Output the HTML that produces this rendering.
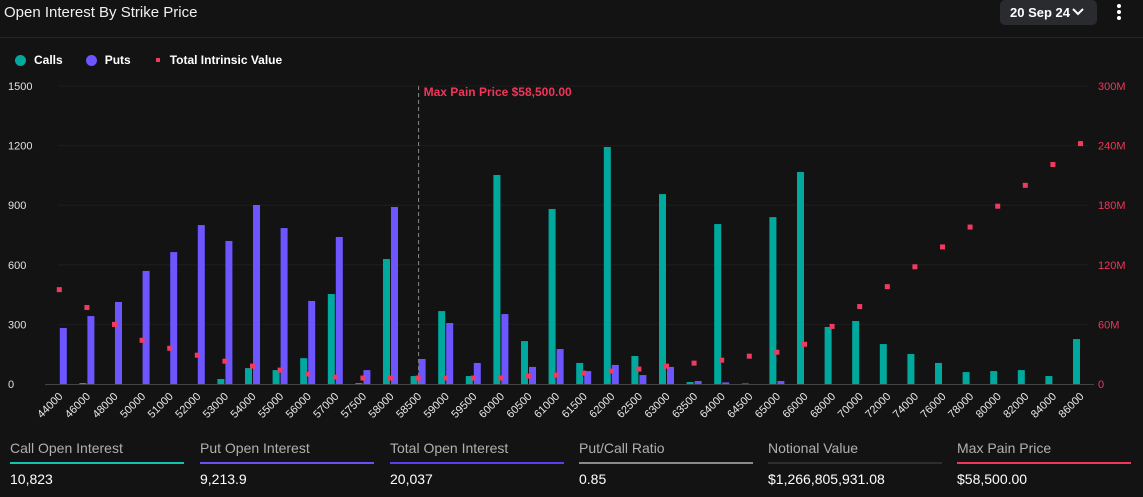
<!DOCTYPE html>
<html><head><meta charset="utf-8">
<style>
body{margin:0;background:#131313;width:1143px;height:497px;overflow:hidden;font-family:"Liberation Sans",sans-serif;color:#fff;position:relative}
.title{position:absolute;left:4px;top:4px;font-size:15px;color:#f0f0f0}
.hdr-line{position:absolute;left:0;top:37px;width:1143px;height:1px;background:#262626}
.date{position:absolute;left:1000px;top:0;width:97px;height:25px;background:#2a2b2e;border-radius:5px;font-size:13px;font-weight:bold;line-height:25px;box-sizing:border-box;padding-left:10px}
.date svg{position:absolute;left:72px;top:8px}
.menu{position:absolute;left:1117px;top:4px;width:6px}
.menu i{display:block;width:4px;height:4px;border-radius:2px;background:#fff;margin:0 0 2px 0}
.legend{position:absolute;top:53px;left:15px;font-size:12px;font-weight:bold;display:flex;align-items:center}
.legend span{display:flex;align-items:center;margin-right:23px}
.stat{position:absolute;top:440px;width:174px}
.stat .lab{font-size:14px;color:#b0b0b0;height:20px}
.stat .bar{height:2px;margin-top:2px}
.stat .val{font-size:14px;color:#fff;margin-top:7px}
</style></head><body>
<div class="title">Open Interest By Strike Price</div>
<div class="date">20 Sep 24<svg width="12" height="8" viewBox="0 0 12 8"><path d="M1 1L6 6L11 1" stroke="#fff" stroke-width="2" fill="none"/></svg></div>
<div class="menu"><i></i><i></i><i></i></div>
<div class="hdr-line"></div>
<div class="legend">
<span><i style="width:11px;height:11px;border-radius:6px;background:#00a99d;margin-right:8px;display:inline-block"></i>Calls</span>
<span><i style="width:11px;height:11px;border-radius:6px;background:#6d55ff;margin-right:8px;display:inline-block"></i>Puts</span>
<span><i style="width:4px;height:4px;background:#f03a5f;margin:0 10px 0 2px;display:inline-block"></i>Total Intrinsic Value</span>
</div>
<svg id="chart" width="1143" height="430" style="position:absolute;left:0;top:0"></svg>

<div class="stat" style="left:10px"><div class="lab">Call Open Interest</div><div class="bar" style="background:#12c3b2"></div><div class="val">10,823</div></div>
<div class="stat" style="left:200px"><div class="lab">Put Open Interest</div><div class="bar" style="background:#6d4ff5"></div><div class="val">9,213.9</div></div>
<div class="stat" style="left:390px"><div class="lab">Total Open Interest</div><div class="bar" style="background:#5b3ff0"></div><div class="val">20,037</div></div>
<div class="stat" style="left:579px"><div class="lab">Put/Call Ratio</div><div class="bar" style="background:#8a8a8a"></div><div class="val">0.85</div></div>
<div class="stat" style="left:768px"><div class="lab">Notional Value</div><div class="bar" style="background:#2e2e2e"></div><div class="val">$1,266,805,931.08</div></div>
<div class="stat" style="left:957px"><div class="lab">Max Pain Price</div><div class="bar" style="background:#f0365a"></div><div class="val">$58,500.00</div></div>

<script>
const strikes=["44000","46000","48000","50000","51000","52000","53000","54000","55000","56000","57000","57500","58000","58500","59000","59500","60000","60500","61000","61500","62000","62500","63000","63500","64000","64500","65000","66000","68000","70000","72000","74000","76000","78000","80000","82000","84000","86000"];
const calls=[0,5,0,0,0,0,25,80,70,130,453,5,629,40,367,40,1052,216,881,106,1193,141,956,10,805,3,840,1067,287,317,201,151,106,60,65,70,40,226];
const puts=[282,342,413,569,664,800,720,901,785,418,740,70,891,126,307,106,352,86,176,65,96,45,86,15,8,0,15,0,0,0,0,0,0,0,0,0,0,0];
const intrinsic=[95,77,60,44,36,29,23,18,14,10,7,6,6,6,6,6,6,8,9,11,13,15,18,21,24,28,32,40,58,78,98,118,138,158,179,200,221,242];
const leftTicks=[0,300,600,900,1200,1500];
const rightTicks=["0","60M","120M","180M","240M","300M"];
const maxPainIndex=13;
const maxPainLabel="Max Pain Price $58,500.00";

const svg=document.getElementById('chart');
const NS="http://www.w3.org/2000/svg";
const y0=384,yTop=86,x0=59.3,step=27.6;
const yL=v=>y0-(v/1500)*(y0-yTop);
const yR=v=>y0-(v/300)*(y0-yTop);
const xC=i=>x0+i*step;
function mk(t,a){const e=document.createElementNS(NS,t);for(const k in a)e.setAttribute(k,a[k]);svg.appendChild(e);return e;}
leftTicks.forEach((t,i)=>{
  const y=yL(t);
  if(i>0){const g=mk('line',{x1:58,x2:1088,y1:y,y2:y,stroke:'#1e1e1e','stroke-width':1});
  
  }
  const l=mk('text',{x:8,y:y+4,fill:'#e0e0e0','font-size':11});l.textContent=t;
  
  
  const r=mk('text',{x:1098,y:y+4,fill:'#f0365a','font-size':11});r.textContent=rightTicks[i];
  
  
});
const ax=mk('line',{x1:45,x2:1094,y1:y0+0.5,y2:y0+0.5,stroke:'#444','stroke-width':1});


strikes.forEach((s,i)=>{
  const c=xC(i);
  if(calls[i]>0){const b=mk('rect',{x:c-7.5,y:yL(calls[i]),width:7,height:y0-yL(calls[i]),fill:'#00a99d'});
  
  }
  if(puts[i]>0){const b=mk('rect',{x:c+0.5,y:yL(puts[i]),width:7,height:y0-yL(puts[i]),fill:'#6d55ff'});
  
  }
  const t=mk('text',{x:0,y:0,fill:'#e8e8e8','font-size':11,'text-anchor':'end',transform:`translate(${c+4},${y0+13}) rotate(-45)`});
  t.textContent=s;
  
  
});
const mx=xC(maxPainIndex)+0.5;
const ml=mk('line',{x1:mx,x2:mx,y1:yTop,y2:y0,stroke:'#888','stroke-width':1,'stroke-dasharray':'4,3'});


const mt=mk('text',{x:mx+5,y:yTop+10,fill:'#f0365a','font-size':12,'font-weight':'bold'});
mt.textContent=maxPainLabel;


strikes.forEach((s,i)=>{
  const d=mk('rect',{x:xC(i)-2.5,y:yR(intrinsic[i])-2.5,width:5,height:5,fill:'#f03a5f'});
  
  
});
</script>
</body></html>
